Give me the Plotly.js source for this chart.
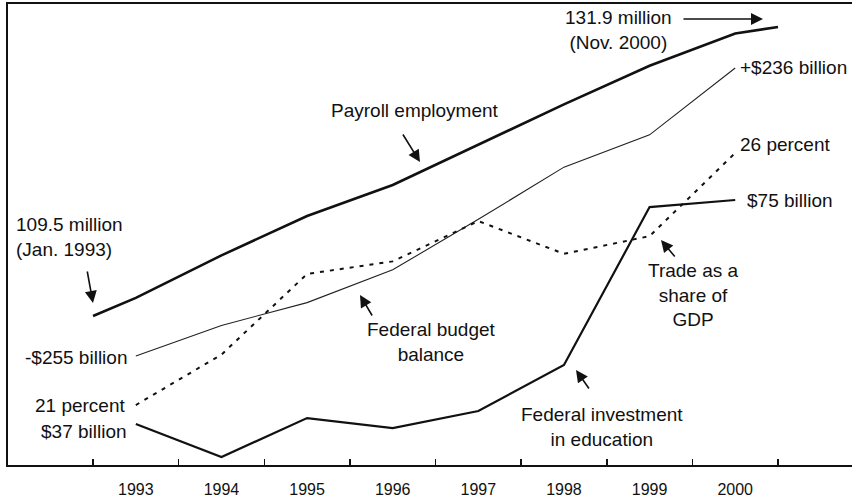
<!DOCTYPE html>
<html>
<head>
<meta charset="utf-8">
<script src="https://cdn.plot.ly/plotly-3.0.1.min.js"></script>
<style>html,body{margin:0;padding:0;background:#fff;}#chart{width:854px;height:497px;}</style>
</head>
<body>
<div id="chart"></div>
<script>
// ---- Data ----
const years = [1993, 1994, 1995, 1996, 1997, 1998, 1999, 2000];
const yearLabels = ["1993", "1994", "1995", "1996", "1997", "1998", "1999", "2000"];

// Payroll employment (millions): Jan 1993, annual values, Nov 2000
const payrollX = [1992.5, 1993, 1994, 1995, 1996, 1997, 1998, 1999, 2000, 2000.5];
const payroll = [109.5, 110.9, 114.2, 117.25, 119.65, 122.8, 125.9, 128.9, 131.4, 131.9];

// Federal budget balance ($ billions)
const budget = [-255, -203, -164, -108, -22, 67, 122, 236];

// Trade as a share of GDP (percent)
const trade = [21, 22.0, 23.6, 23.85, 24.65, 24.0, 24.35, 26];

// Federal investment in education ($ billions)
const education = [37, 31.4, 38.0, 36.3, 39.2, 47.0, 73.8, 75];

// ---- Layout helpers (positions only) ----
const W = 854, H = 497;
const M = {l: 8, r: 2, t: 4, b: 32};
const PW = W - M.l - M.r, PH = H - M.t - M.b;
const px = x => (x - M.l) / PW;
const py = y => (H - M.b - y) / PH;

const FONT = "Liberation Sans, Arial, Helvetica, sans-serif";
const TXT = {family: FONT, size: 19, color: "#111"};

function label(text, x, y, xanchor, align) {
  return {text: text, xref: "paper", yref: "paper", x: px(x), y: py(y),
          xanchor: xanchor, yanchor: "middle", align: align || "center",
          showarrow: false, font: TXT};
}
function arrow(hx, hy, tx, ty) {
  return {text: "", xref: "paper", yref: "paper", x: px(hx), y: py(hy),
          ax: tx - hx, ay: ty - hy, showarrow: true, arrowhead: 2,
          arrowsize: 1.5, arrowwidth: 1.6, arrowcolor: "#111", standoff: 0, startstandoff: 0};
}

const traces = [
  {x: payrollX, y: payroll, yaxis: "y", mode: "lines", line: {color: "#111", width: 2.6}},
  {x: years, y: budget, yaxis: "y2", mode: "lines", line: {color: "#222", width: 1.1}},
  {x: years, y: trade, yaxis: "y3", mode: "lines", line: {color: "#111", width: 2, dash: "4px,6px"}},
  {x: years, y: education, yaxis: "y4", mode: "lines", line: {color: "#111", width: 2.2}}
];

const hiddenY = r => ({range: r, overlaying: "y", showgrid: false, zeroline: false,
                       showticklabels: false, ticks: "", showline: false, fixedrange: true});

const layout = {
  width: W, height: H,
  margin: M,
  paper_bgcolor: "#fff", plot_bgcolor: "#fff",
  showlegend: false,
  xaxis: {
    range: [1991.507, 2001.364],
    tickvals: years, ticktext: yearLabels, ticks: "",
    ticklabelstandoff: 9,
    tickfont: {family: FONT, size: 16, color: "#111"},
    showgrid: false, zeroline: false,
    showline: true, linecolor: "#111", linewidth: 2, mirror: true,
    minor: {tick0: 1992.5, dtick: 1, ticks: "inside", ticklen: 6, tickwidth: 1.5, tickcolor: "#111", showgrid: false}
  },
  yaxis: {range: [97.951, 133.682], showgrid: false, zeroline: false, showticklabels: false,
          ticks: "", showline: true, linecolor: "#111", linewidth: 2},
  yaxis2: hiddenY([-440.83, 345.11]),
  yaxis3: hiddenY([19.810, 28.956]),
  yaxis4: hiddenY([30.045, 108.247]),
  annotations: [
    label("Payroll employment", 415, 110, "center"),
    label("109.5 million<br>(Jan. 1993)", 14, 237, "left", "left"),
    label("131.9 million<br>(Nov. 2000)", 618, 30, "center"),
    label("+$236 billion", 738, 68, "left", "left"),
    label("26 percent", 738, 144, "left", "left"),
    label("$75 billion", 745, 201, "left", "left"),
    label("Trade as a<br>share of<br>GDP", 693, 295, "center"),
    label("Federal budget<br>balance", 431, 342, "center"),
    label("Federal investment<br>in education", 602, 427, "center"),
    label("-$255 billion", 129, 357, "right", "right"),
    label("21 percent", 128, 405, "right", "right"),
    label("$37 billion", 129, 431, "right", "right"),
    arrow(420, 162, 402, 133),
    arrow(93, 303, 87, 270),
    arrow(763, 19, 682, 19),
    arrow(360, 295, 373, 317),
    arrow(661, 240, 676, 258),
    arrow(576, 370, 590, 390)
  ]
};

Plotly.newPlot("chart", traces, layout, {staticPlot: true, displayModeBar: false});
</script>
</body>
</html>
